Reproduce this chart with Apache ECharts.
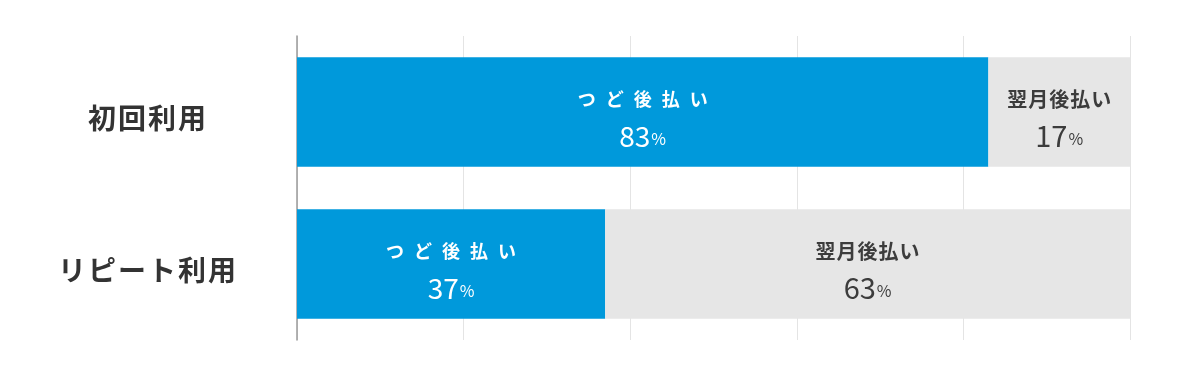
<!DOCTYPE html>
<html>
<head>
<meta charset="utf-8">
<script src="https://cdn.jsdelivr.net/npm/echarts@6/dist/echarts.min.js"></script>
<style>
  html, body { margin: 0; padding: 0; background: #ffffff; }
  #chart { width: 1200px; height: 371px; }
</style>
</head>
<body>
<div id="chart"></div>
<script>
// Usage categories (top to bottom)
const categories = ['初回利用', 'リピート利用'];
// Payment method names
const seriesNames = ['つど後払い', '翌月後払い'];
// Share of each payment method, percent
const tsudoValues = [83, 37];
const yokugetsuValues = [17, 63];
// Value axis ticks (percent)
const xMin = 0;
const xMax = 100;
const xInterval = 20;

const FONT = '"Noto Sans CJK JP", "Noto Sans", sans-serif';

// Spread the characters of a name apart by wrapping each in its own rich token
function spaced(name, token) {
  return Array.from(name).map(ch => '{' + token + '|' + ch + '}').join('');
}

function makeLabel(textColor, nameSize, nameGap, numSize, pctSize) {
  return {
    show: true,
    position: 'inside',
    offset: [0, 4],
    fontFamily: FONT,
    formatter: p => spaced(p.seriesName, 'c') + '\n{n|' + p.value + '}{p|%}',
    rich: {
      c: {
        color: textColor, fontFamily: FONT, fontSize: nameSize, fontWeight: 'bold',
        padding: [0, nameGap, 0, nameGap], lineHeight: 34
      },
      n: {
        color: textColor, fontFamily: FONT, fontSize: numSize, fontWeight: 'normal',
        lineHeight: 34, verticalAlign: 'bottom'
      },
      p: {
        color: textColor, fontFamily: FONT, fontSize: pctSize, fontWeight: 'normal',
        lineHeight: 34, verticalAlign: 'bottom', padding: [0, 0, 3, 1]
      }
    }
  };
}

const chart = echarts.init(document.getElementById('chart'), null, { renderer: 'canvas' });

chart.setOption({
  animation: false,
  backgroundColor: '#ffffff',
  grid: { left: 297, right: 70, top: 36, bottom: 31, containLabel: false },
  xAxis: {
    type: 'value',
    min: xMin,
    max: xMax,
    interval: xInterval,
    axisLine: { show: false },
    axisTick: { show: false },
    axisLabel: { show: false },
    splitLine: { show: true, lineStyle: { color: '#e4e4e4', width: 1 } }
  },
  yAxis: {
    type: 'category',
    data: categories,
    inverse: true,
    axisLine: { show: true, lineStyle: { color: '#9a9a9a', width: 1.5 } },
    axisTick: { show: false },
    axisLabel: {
      margin: 150,
      align: 'center',
      formatter: v => spaced(v, 'k'),
      rich: {
        k: {
          color: '#333333', fontFamily: FONT, fontSize: 28, fontWeight: 'bold',
          padding: [0, 1, 0, 1]
        }
      },
      padding: [12, 0, 0, 0]
    }
  },
  series: [
    {
      name: seriesNames[0],
      type: 'bar',
      stack: 'total',
      data: tsudoValues,
      barCategoryGap: '28%',
      itemStyle: { color: '#0099db' },
      label: makeLabel('#ffffff', 18, 5, 28, 16)
    },
    {
      name: seriesNames[1],
      type: 'bar',
      stack: 'total',
      data: yokugetsuValues,
      barCategoryGap: '28%',
      itemStyle: { color: '#e6e6e6' },
      label: makeLabel('#3c3c3c', 20, 0.5, 29, 16)
    }
  ]
});
</script>
</body>
</html>
